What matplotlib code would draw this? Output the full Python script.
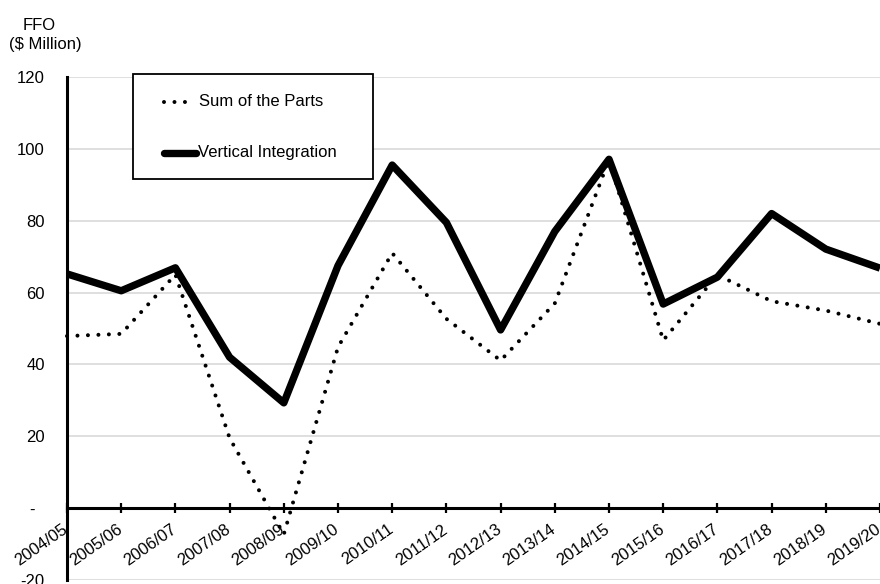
import matplotlib
matplotlib.use("Agg")
import matplotlib.pyplot as plt
from matplotlib.lines import Line2D
from matplotlib.patches import Rectangle
from matplotlib.ticker import FixedLocator, FuncFormatter
from matplotlib.transforms import ScaledTranslation

plt.rcParams['font.family'] = ['Liberation Sans', 'DejaVu Sans']

years = ["2004/05", "2005/06", "2006/07", "2007/08", "2008/09", "2009/10",
         "2010/11", "2011/12", "2012/13", "2013/14", "2014/15", "2015/16",
         "2016/17", "2017/18", "2018/19", "2019/20"]
sum_of_parts = [47.9, 48.5, 65.0, 19.5, -7.3, 44.8, 71.0, 52.7,
                41.1, 57.0, 97.0, 46.7, 64.9, 57.6, 55.0, 51.3]
vertical_integration = [65.2, 60.5, 66.9, 42.0, 29.3, 67.5, 95.5, 79.5,
                        49.6, 77.0, 97.1, 56.8, 64.3, 82.0, 72.1, 66.8]
y_ticks = [-20, 0, 20, 40, 60, 80, 100, 120]

W, H = 880, 584
fig = plt.figure(figsize=(W / 100, H / 100), dpi=100)


def fx(x):
    return x / W


def fy(y):
    return 1 - y / H


ax = fig.add_axes([fx(67), fy(580), fx(880) - fx(67), fy(77) - fy(580)])
ax.set_xlim(0, len(years) - 1)
ax.set_ylim(-20, 120)

x = list(range(len(years)))
ax.plot(x, sum_of_parts, color='black', lw=2.9, linestyle=(0, (0.001, 2.6)),
        dash_capstyle='round', zorder=3, clip_on=False)
ax.plot(x, vertical_integration, color='black', lw=5.3,
        solid_joinstyle='round', solid_capstyle='butt', zorder=4, clip_on=False)

# horizontal grid
ax.yaxis.set_major_locator(FixedLocator(y_ticks))
ax.grid(axis='y', color='#d9d9d9', lw=1.2, zorder=0)
ax.set_axisbelow(True)


def yfmt(v, pos):
    if abs(v) < 1e-9:
        return "-  "
    return f"{v:,.0f}"


ax.yaxis.set_major_formatter(FuncFormatter(yfmt))
ax.tick_params(axis='y', length=0, pad=16, labelsize=12, labelcolor='black')

# category axis drawn through zero
for s in ('top', 'right'):
    ax.spines[s].set_visible(False)
ax.spines['left'].set_linewidth(2.2)
ax.spines['left'].set_color('black')
ax.spines['bottom'].set_position(('data', 0))
ax.spines['bottom'].set_linewidth(2.2)
ax.spines['bottom'].set_color('black')
ax.spines['bottom'].set_zorder(2)
ax.set_xticks(x)
ax.set_xticklabels(years, rotation=35, ha='right', rotation_mode='anchor')
ax.tick_params(axis='x', direction='inout', length=7, width=1.6,
               color='black', pad=2, labelsize=12, labelcolor='black')
shift = ScaledTranslation(-5 / 100, -6 / 100, fig.dpi_scale_trans)
for lab in ax.get_xticklabels():
    lab.set_transform(lab.get_transform() + shift)

# unit label
fig.text(fx(39), fy(25), "FFO", ha='center', va='center', fontsize=12)
fig.text(fx(45), fy(45), "($ Million)", ha='center', va='center', fontsize=12)

# legend box
fig.add_artist(Rectangle((fx(133), fy(179)), fx(373) - fx(133), fy(74) - fy(179),
                         transform=fig.transFigure, facecolor='white',
                         edgecolor='black', lw=1.3, zorder=10))
fig.add_artist(Line2D([fx(164), fx(190)], [fy(102), fy(102)],
                      transform=fig.transFigure, color='black', lw=2.9,
                      linestyle=(0, (0.001, 2.6)), dash_capstyle='round',
                      zorder=11))
fig.text(fx(199), fy(102), "Sum of the Parts", ha='left', va='center',
         fontsize=12, zorder=11)
fig.add_artist(Line2D([fx(164), fx(196)], [fy(153), fy(153)],
                      transform=fig.transFigure, color='black', lw=5.3,
                      solid_capstyle='round', zorder=11))
fig.text(fx(198), fy(153), "Vertical Integration", ha='left', va='center',
         fontsize=12, zorder=11)

fig.savefig("out.png", dpi=100)
